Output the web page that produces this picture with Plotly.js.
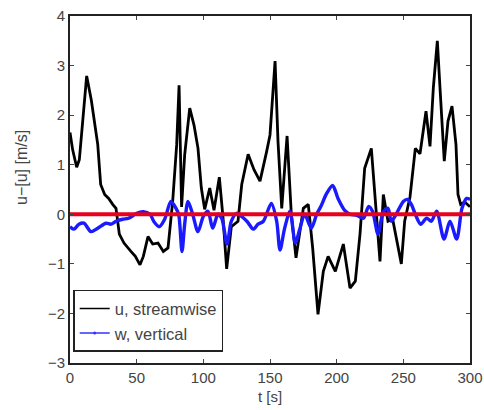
<!DOCTYPE html>
<html>
<head>
<meta charset="utf-8">
<script src="https://cdn.plot.ly/plotly-3.0.1.min.js"></script>
<style>html,body{margin:0;padding:0;background:#fff;}#chart{width:484px;height:410px;}</style>
</head>
<body>
<div id="chart"></div>
<script>
// streamwise fluctuation u - [u]
const tU = [0, 2, 5, 7, 12.5, 16, 20.8, 23, 26, 29, 32, 34.5, 37, 40.5, 45.7, 49, 52.5, 55, 58.5, 62, 66, 70, 73.5, 77, 80, 81.8, 83.7, 86, 89.8, 93, 96, 98.5, 101, 104.8, 108, 112, 114.8, 117.5, 121, 126, 128.8, 133.6, 138, 142.5, 147.5, 150, 153.8, 156, 158.8, 162.8, 166, 169.5, 175, 178.7, 182, 186, 190, 193.6, 199, 205, 210, 214, 217.5, 221, 226, 228.8, 232.5, 235, 238.5, 242, 248.5, 251, 255, 259, 262.5, 267, 270, 272.5, 275.5, 277.5, 280.7, 283.5, 286.5, 289.5, 291, 293, 296, 300];
const uVals = [1.65, 1.3, 0.95, 1.1, 2.79, 2.3, 1.41, 0.6, 0.4, 0.32, 0.2, 0.12, -0.4, -0.58, -0.75, -0.85, -1.02, -0.85, -0.45, -0.6, -0.58, -0.75, -0.68, 0.26, 1.4, 2.6, 0.15, 1.2, 2.14, 1.8, 1.33, 0.53, 0.1, 0.53, 0.08, 0.75, -0.08, -1.1, -0.25, -0.14, 0.6, 1.21, 0.9, 0.67, 1.27, 1.6, 3.09, 1.47, 0.12, 1.58, 0, -0.88, 0.12, 0.2, -0.68, -2.02, -1.15, -0.85, -1.15, -0.6, -1.49, -1.35, -0.4, 0.93, 1.33, 0.26, -0.95, 0.4, -0.14, -0.1, -1.0, -0.14, 0.35, 1.33, 1.22, 2.08, 1.37, 2.55, 3.5, 2.55, 1.07, 1.88, 2.18, 1.4, 0.4, 0.2, 0.25, 0.15];
// vertical fluctuation w
const tW = [0, 3, 6.7, 10.5, 15.7, 20.8, 27, 30.8, 34.5, 39.5, 44, 50, 55, 60, 63, 67, 71, 75.7, 79.5, 81.5, 84, 86, 88.5, 92, 96, 100, 103.5, 107, 111, 113.8, 117.8, 121, 125, 129, 133, 137.5, 141, 145, 151, 155, 157.5, 161, 165, 169, 172.5, 176, 181, 185, 188, 192.5, 197, 201, 206, 210, 215, 220, 224, 227, 231, 235, 238.5, 241, 245, 250, 253, 256, 259, 263, 267.5, 271, 275, 280.5, 285, 290, 294, 297.5, 300];
const wVals = [-0.25, -0.3, -0.2, -0.18, -0.35, -0.28, -0.18, -0.2, -0.14, -0.1, -0.08, 0.02, 0.05, 0.0, -0.15, -0.25, -0.1, 0.26, 0.12, 0.0, -0.75, -0.2, 0.26, 0.0, -0.35, -0.04, 0.06, -0.28, 0.0, -0.08, -0.6, -0.14, 0.02, -0.05, -0.15, -0.3, -0.2, -0.14, 0.22, -0.14, -0.72, -0.28, 0.06, -0.58, -0.28, 0.0, -0.28, 0.0, 0.15, 0.42, 0.58, 0.32, 0.08, 0.0, -0.02, -0.08, 0.16, 0.05, -0.4, 0.05, 0.12, -0.14, 0.02, 0.26, 0.3, 0.2, 0.0, -0.2, -0.08, -0.14, 0.06, -0.5, -0.14, -0.5, 0.12, 0.32, 0.3];
const meanLevel = 0;
const seriesNames = ['u, streamwise', 'w, vertical'];
const xTicks = [0, 50, 100, 150, 200, 250, 300];
const yTicks = [-3, -2, -1, 0, 1, 2, 3, 4];

const FONT = 'Liberation Sans, Arial, sans-serif';
const traces = [
  {x: tU, y: uVals, mode: 'lines', line: {color: '#000', width: 2.8}, showlegend: false},
  {x: tW, y: wVals, mode: 'lines', line: {color: '#1a1aff', width: 3.4, shape: 'spline', smoothing: 0.8}, showlegend: false},
  {x: [tU[0], tU[tU.length - 1]], y: [meanLevel, meanLevel], mode: 'lines', line: {color: '#e8001c', width: 4}, showlegend: false},
  {x: [null], y: [null], mode: 'lines', name: seriesNames[0], line: {color: '#000', width: 1.5}},
  {x: [null], y: [null], mode: 'lines+markers', name: seriesNames[1], line: {color: '#3333ff', width: 1.5}, marker: {color: '#3333ff', size: 3}}
];

const axisCommon = {
  showline: true, linecolor: '#222', linewidth: 2, mirror: 'ticks',
  ticks: 'inside', ticklen: 4, tickcolor: '#444', tickwidth: 1,
  showgrid: false, zeroline: false,
  tickfont: {family: FONT, size: 15, color: '#444'}
};

const layout = {
  width: 484, height: 410,
  margin: {l: 70, r: 14, t: 16, b: 47},
  paper_bgcolor: '#fff', plot_bgcolor: '#fff',
  xaxis: Object.assign({}, axisCommon, {
    range: [0, 300], tickvals: xTicks, ticktext: xTicks.map(String),
    title: {text: 't [s]', standoff: 6, font: {family: FONT, size: 15, color: '#444'}}
  }),
  yaxis: Object.assign({}, axisCommon, {
    range: [-3, 4], tickvals: yTicks, ticktext: yTicks.map(v => v < 0 ? '\u2212' + Math.abs(v) : String(v)),
    title: {text: ''}
  }),
  annotations: [{
    text: 'u\u2212[u] [m/s]', xref: 'paper', yref: 'paper', x: -0.12, y: 0.562,
    xanchor: 'center', yanchor: 'middle', textangle: -90, showarrow: false,
    font: {family: FONT, size: 16, color: '#444'}
  }],
  legend: {
    x: 0.008, y: 0.032, xanchor: 'left', yanchor: 'bottom',
    bgcolor: '#fff', bordercolor: '#222', borderwidth: 1.5,
    font: {family: FONT, size: 16.5, color: '#444'},
    tracegroupgap: 0
  },
  showlegend: true
};

Plotly.newPlot('chart', traces, layout, {displayModeBar: false, staticPlot: true});
</script>
</body>
</html>
